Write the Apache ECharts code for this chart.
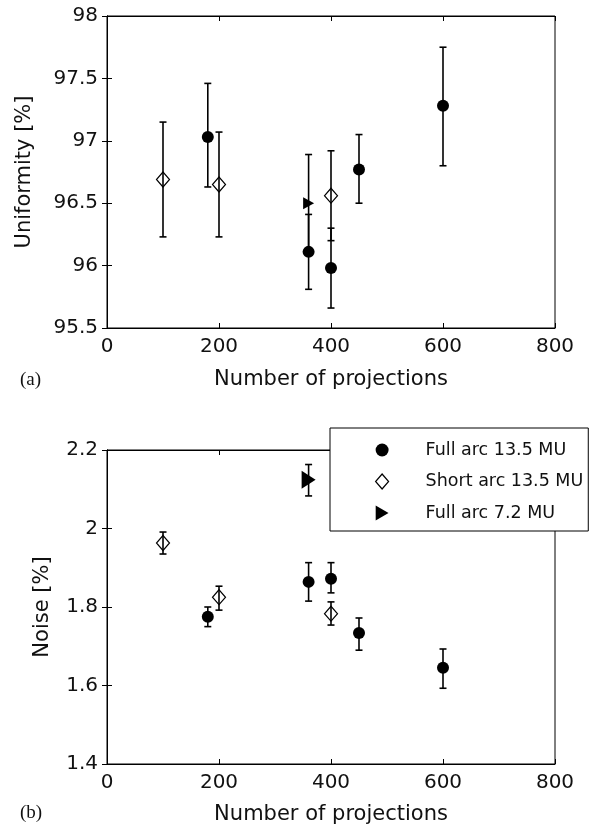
<!DOCTYPE html>
<html>
<head>
<meta charset="utf-8">
<script src="https://cdn.jsdelivr.net/npm/echarts@6/dist/echarts.min.js"></script>
<style>html,body{margin:0;padding:0;background:#fff}#c{width:600px;height:833px}</style>
</head>
<body>
<div id="c"></div>
<script>
// ---- data ----
const xTicks = [0, 200, 400, 600, 800];
const uniTicks = [95.5, 96, 96.5, 97, 97.5, 98];
const noiseTicks = [1.4, 1.6, 1.8, 2.0, 2.2];
const seriesNames = ['Full arc 13.5 MU', 'Short arc 13.5 MU', 'Full arc 7.2 MU'];

// Uniformity (a)
const xFull = [180, 360, 400, 450, 600];
const uniFull = [97.03, 96.11, 95.98, 96.77, 97.28];
const uniFullLow = [96.63, 95.81, 95.66, 96.50, 96.80];
const uniFullHigh = [97.46, 96.41, 96.30, 97.05, 97.75];

const xShort = [100, 200, 400];
const uniShort = [96.69, 96.65, 96.56];
const uniShortLow = [96.23, 96.23, 96.20];
const uniShortHigh = [97.15, 97.07, 96.92];

const x72 = [360];
const uni72 = [96.50];
const uni72Low = [96.11];
const uni72High = [96.89];

// Noise (b)
const noiseFull = [1.775, 1.864, 1.872, 1.734, 1.645];
const noiseFullLow = [1.750, 1.815, 1.836, 1.690, 1.593];
const noiseFullHigh = [1.800, 1.913, 1.913, 1.772, 1.693];

const noiseShort = [1.963, 1.825, 1.783];
const noiseShortLow = [1.935, 1.792, 1.754];
const noiseShortHigh = [1.991, 1.853, 1.813];

const noise72 = [2.124];
const noise72Low = [2.083];
const noise72High = [2.163];

// ---- helpers ----
const pts = (xs, ys) => xs.map((x, i) => [x, ys[i]]);
const errs = (xs, lo, hi) => xs.map((x, i) => [x, lo[i], hi[i]]);

function errRender(params, api) {
  const x = api.value(0), lo = api.value(1), hi = api.value(2);
  const a = api.coord([x, lo]), b = api.coord([x, hi]);
  const w = 3.5;
  const style = { stroke: '#000', lineWidth: 1.6 };
  return {
    type: 'group',
    children: [
      { type: 'line', shape: { x1: a[0], y1: a[1], x2: b[0], y2: b[1] }, style },
      { type: 'line', shape: { x1: a[0] - w, y1: a[1], x2: a[0] + w, y2: a[1] }, style },
      { type: 'line', shape: { x1: b[0] - w, y1: b[1], x2: b[0] + w, y2: b[1] }, style }
    ]
  };
}

const FONT = 'DejaVu Sans';
const labelStyle = { fontFamily: FONT, fontSize: 20, color: '#111' };
const nameStyle = { fontFamily: FONT, fontSize: 21, color: '#111' };
const lineStyle = { color: '#000', width: 1 };

function xAxisPair(gridIndex, nameGap) {
  const base = {
    gridIndex, type: 'value', min: xTicks[0], max: xTicks[xTicks.length - 1], interval: 200,
    splitLine: { show: false },
    axisLine: { show: true, lineStyle },
    axisTick: { show: true, inside: true, length: 5, lineStyle }
  };
  return [
    Object.assign({}, base, {
      position: 'bottom',
      name: 'Number of projections', nameLocation: 'middle', nameGap,
      nameTextStyle: nameStyle,
      axisLabel: Object.assign({ margin: 9 }, labelStyle)
    }),
    Object.assign({}, base, { position: 'top', axisLabel: { show: false } })
  ];
}

function yAxisPair(gridIndex, ticks, interval, name, nameGap) {
  const base = {
    gridIndex, type: 'value', min: ticks[0], max: ticks[ticks.length - 1], interval,
    splitLine: { show: false },
    axisLine: { show: true, lineStyle },
    axisTick: { show: true, inside: true, length: 5, lineStyle }
  };
  return [
    Object.assign({}, base, {
      position: 'left', name, nameLocation: 'middle', nameGap,
      nameTextStyle: nameStyle,
      axisLabel: Object.assign({ margin: 9, formatter: v => String(+v.toFixed(2)) }, labelStyle)
    }),
    Object.assign({}, base, { position: 'right', axisLabel: { show: false } })
  ];
}

function seriesFor(ax, ay, full, fullLo, fullHi, sh, shLo, shHi, t, tLo, tHi, triSize) {
  return [
    { type: 'custom', name: seriesNames[0], xAxisIndex: ax, yAxisIndex: ay, renderItem: errRender,
      encode: { x: 0, y: [1, 2] }, data: errs(xFull, fullLo, fullHi), z: 3, silent: true },
    { type: 'custom', name: seriesNames[1], xAxisIndex: ax, yAxisIndex: ay, renderItem: errRender,
      encode: { x: 0, y: [1, 2] }, data: errs(xShort, shLo, shHi), z: 3, silent: true },
    { type: 'custom', name: seriesNames[2], xAxisIndex: ax, yAxisIndex: ay, renderItem: errRender,
      encode: { x: 0, y: [1, 2] }, data: errs(x72, tLo, tHi), z: 3, silent: true },
    { type: 'scatter', name: seriesNames[0], xAxisIndex: ax, yAxisIndex: ay, data: pts(xFull, full),
      symbol: 'circle', symbolSize: 12, itemStyle: { color: '#000', opacity: 1 }, z: 4 },
    { type: 'scatter', name: seriesNames[1], xAxisIndex: ax, yAxisIndex: ay, data: pts(xShort, sh),
      symbol: 'diamond', symbolSize: [13, 15],
      itemStyle: { color: 'rgba(255,255,255,0)', borderColor: '#000', borderWidth: 1.2, opacity: 1 }, z: 4 },
    { type: 'scatter', name: seriesNames[2], xAxisIndex: ax, yAxisIndex: ay, data: pts(x72, t),
      symbol: 'triangle', symbolRotate: -90, symbolSize: triSize,
      itemStyle: { color: '#000', opacity: 1 }, z: 4 }
  ];
}

const chart = echarts.init(document.getElementById('c'), null, { renderer: 'canvas' });
const xa = xAxisPair(0, 41).concat(xAxisPair(1, 40));
const ya = yAxisPair(0, uniTicks, 0.5, 'Uniformity [%]', 72)
  .concat(yAxisPair(1, noiseTicks, 0.2, 'Noise [%]', 54));

chart.setOption({
  animation: false,
  backgroundColor: '#fff',
  title: [
    { text: '(a)', left: 20, top: 371, padding: 0,
      textStyle: { fontFamily: 'Liberation Serif', fontSize: 19, fontWeight: 'normal', color: '#111' } },
    { text: '(b)', left: 20, top: 804, padding: 0,
      textStyle: { fontFamily: 'Liberation Serif', fontSize: 19, fontWeight: 'normal', color: '#111' } }
  ],
  grid: [
    { left: 107, top: 16, width: 448, height: 312, show: true, borderColor: '#000', borderWidth: 1, backgroundColor: '#fff' },
    { left: 107, top: 450, width: 448, height: 314, show: true, borderColor: '#000', borderWidth: 1, backgroundColor: '#fff' }
  ],
  xAxis: xa,
  yAxis: ya,
  legend: {
    orient: 'vertical', left: 330, top: 428,
    padding: [13, 5, 9, 45], itemGap: 13.5, itemWidth: 13, itemHeight: 15,
    backgroundColor: '#fff', borderColor: '#000', borderWidth: 1, borderRadius: 0,
    selectedMode: false, z: 10,
    textStyle: { fontFamily: FONT, fontSize: 17.5, color: '#111', padding: [0, 0, 0, 32] },
    data: [
      { name: seriesNames[0], icon: 'circle', itemStyle: { color: '#000', borderWidth: 0 } },
      { name: seriesNames[1], icon: 'diamond', itemStyle: { color: '#fff', borderColor: '#000', borderWidth: 1.2 } },
      { name: seriesNames[2], icon: 'path://M0,0L12,7L0,14Z', itemStyle: { color: '#000', borderWidth: 0 } }
    ]
  },
  series: seriesFor(0, 0, uniFull, uniFullLow, uniFullHigh, uniShort, uniShortLow, uniShortHigh, uni72, uni72Low, uni72High, [12, 11])
    .concat(seriesFor(2, 2, noiseFull, noiseFullLow, noiseFullHigh, noiseShort, noiseShortLow, noiseShortHigh, noise72, noise72Low, noise72High, [18, 14]))
});
</script>
</body>
</html>
